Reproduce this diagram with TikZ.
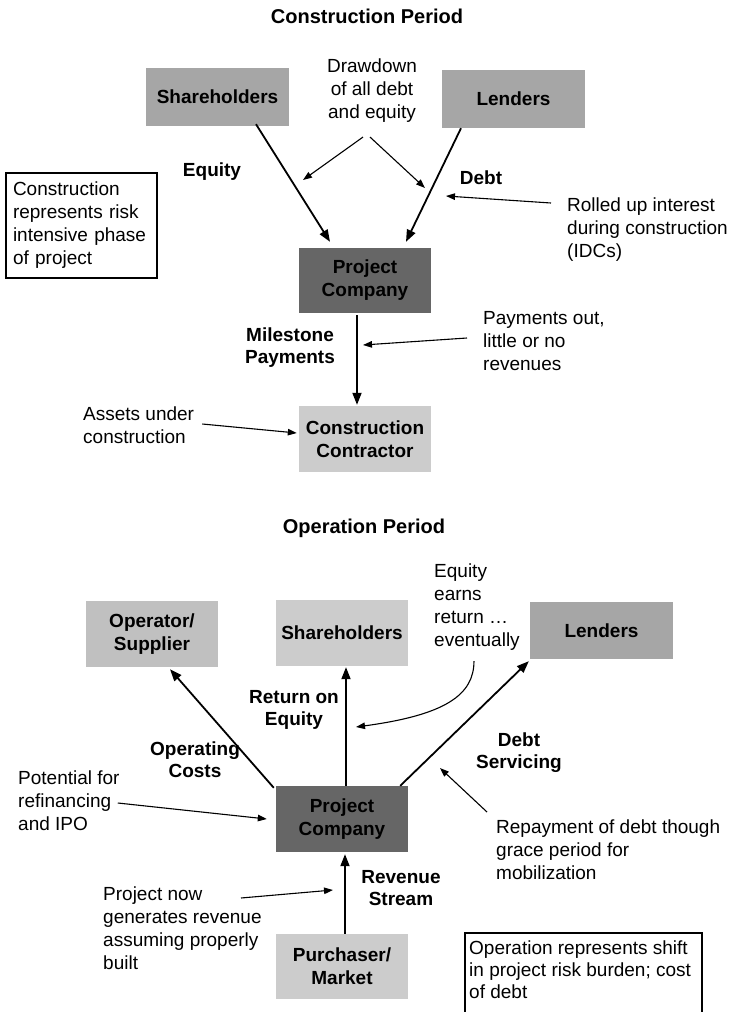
\documentclass[tikz,border=0pt]{standalone}
\usepackage{fontspec}
\setmainfont{Liberation Sans}
\usetikzlibrary{arrows.meta,calc}
\definecolor{boxmid}{HTML}{A6A6A6}
\definecolor{boxdark}{HTML}{666666}
\definecolor{boxlight}{HTML}{CCCCCC}
\definecolor{boxpale}{HTML}{C0C0C0}
\begin{document}
\begin{tikzpicture}[x=1pt,y=-1pt,
  every node/.style={inner sep=0pt, font=\fontsize{19}{23}\selectfont},
  entity/.style={minimum width=132pt, minimum height=66pt, align=center,
    font=\fontsize{19}{23}\selectfont\bfseries},
  wide/.style={minimum width=143pt, minimum height=58pt},
  heading/.style={font=\fontsize{20}{24}\selectfont\bfseries},
  flowlabel/.style={align=center, font=\fontsize{19}{22}\selectfont\bfseries},
  note/.style={align=left, anchor=west},
  flow/.style={line width=1.8pt, -{Triangle[length=12pt,width=9pt]}},
  hint/.style={line width=1.1pt, -{Triangle[length=9pt,width=6.5pt]}},
  frame/.style={line width=1.1pt}
]
\useasboundingbox (0,0) rectangle (736,1012);

% ---------------- Construction period ----------------
\node[heading] (title1) at (367,16) {Construction Period};

\node[entity,wide,fill=boxmid] (sh1) at (217.5,97) {Shareholders};
\node[entity,wide,fill=boxmid] (le1) at (513.5,99) {Lenders};
\node[entity,fill=boxdark,minimum height=65pt] (pc1) at (365,280.5) {Project\\Company};
\node[entity,fill=boxlight] (cc) at (365,439) {Construction\\Contractor};

\node[align=center] (dd) at (372,91) {Drawdown\\of all debt\\and equity};
\node[flowlabel] (eqlab) at (212,172) {Equity};
\node[flowlabel] (debtlab) at (481,178) {Debt};
\node[note] (rolled) at (567,230) {Rolled up interest\\during construction\\(IDCs)};
\node[draw,frame,align=left,text width=137pt,inner xsep=7pt,minimum height=105pt]
  (risk) at (81.5,225.5) {Construction\\represents risk\\intensive phase\\of project};
\node[flowlabel] (mslab) at (290,347.5) {Milestone\\Payments};
\node[note] (payn) at (483,341) {Payments out,\\little or no\\revenues};
\node[note] (assets) at (83,425.5) {Assets under\\construction};

\coordinate (ddL) at (303,180);
\coordinate (ddR) at (425,188);
\coordinate (rolledEnd) at (446,196);
\coordinate (payEnd) at (363,345);

\draw[flow] ($(sh1.south)+(38.5,-2)$) -- ($(pc1.north)+(-35,-6)$);
\draw[flow] ($(le1.south)+(-52.5,0)$) -- ($(pc1.north)+(41,-6)$);
\draw[hint] ($(dd.south)+(-9,14)$) -- (ddL);
\draw[hint] ($(dd.south)+(-2,14)$) -- (ddR);
\draw[hint] ($(rolled.west)+(-16,-27)$) -- (rolledEnd);
\draw[flow] ($(pc1.south)+(-8,2)$) -- ($(cc.north)+(-8,-1)$);
\draw[hint] ($(payn.west)+(-16,-3)$) -- (payEnd);
\draw[hint] ($(assets.east)+(8,-1.5)$) -- ($(cc.west)+(-2,-6)$);

% ---------------- Operation period ----------------
\node[heading] (title2) at (364,528) {Operation Period};

\node[entity,fill=boxpale] (op) at (152,634) {Operator/\\Supplier};
\node[entity,fill=boxlight] (sh2) at (342,633) {Shareholders};
\node[entity,wide,fill=boxmid,minimum height=57pt] (le2) at (601.5,630.5) {Lenders};
\node[entity,fill=boxdark] (pc2) at (342,819) {Project\\Company};
\node[entity,fill=boxlight,minimum height=65pt] (pm) at (342,966.5) {Purchaser/\\Market};

\node[note] (eqnote) at (434,607.5) {Equity\\earns\\return …\\eventually};
\node[flowlabel] (roelab) at (294,709.5) {Return on\\Equity};
\node[flowlabel] (oclab) at (195,760) {Operating\\Costs};
\node[flowlabel] (dslab) at (519,752.5) {Debt\\Servicing};
\node[note] (pot) at (18,801) {Potential for\\refinancing\\and IPO};
\node[flowlabel] (revlab) at (401,888.5) {Revenue\\Stream};
\node[note] (repay) at (496,850) {Repayment of debt though\\grace period for\\mobilization};
\node[note] (pnow) at (103,928) {Project now\\generates revenue\\assuming properly\\built};
\node[note,font=\fontsize{19}{22}\selectfont] (opnote) at (469,970)
  {Operation represents shift\\in project risk burden; cost\\of debt};
\draw[frame] (465,1012) -- (465,933) -- (702,933) -- (702,1012);

\coordinate (curveEnd) at (356,727);
\coordinate (pnowEnd) at (333,890);
\coordinate (repEnd) at (440,768);

\draw[flow] ($(pc2.north west)+(-2,2)$) -- ($(op.south)+(18,2)$);
\draw[flow] ($(pc2.north)+(4,0)$) -- ($(sh2.south)+(4,1)$);
\draw[flow] ($(pc2.north east)+(-8,0)$) -- ($(le2.south west)+(-1,2)$);
\draw[flow] ($(pm.north)+(3,0)$) -- ($(pc2.south)+(3,2)$);
\draw[hint] ($(eqnote.south)+(-3,10)$) .. controls +(0,34) and +(89,-12) .. (curveEnd);
\draw[hint] ($(pot.east)+(-2,2)$) -- ($(pc2.west)+(-9,0)$);
\draw[hint] ($(pnow.west)+(138,-30)$) -- (pnowEnd);
\draw[hint] ($(repay.west)+(-9,-38)$) -- (repEnd);
\end{tikzpicture}
\end{document}
